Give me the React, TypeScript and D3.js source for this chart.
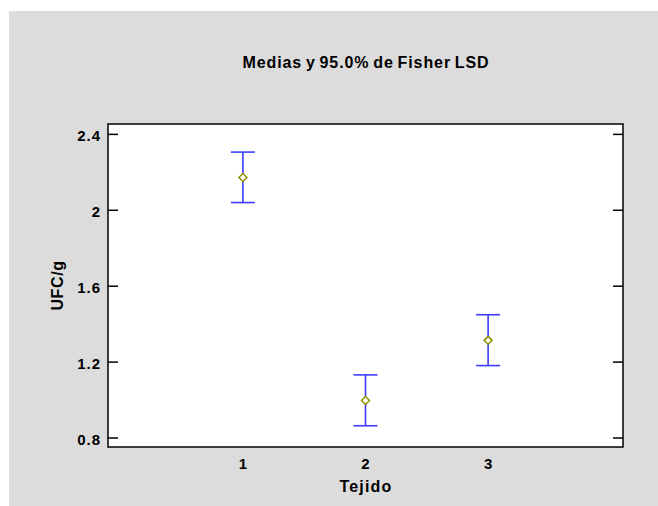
import React, { useRef, useEffect } from "react";
import * as d3 from "d3";

// Tejido groups with mean and 95% Fisher LSD limits
const categories = [1, 2, 3];
const means = [2.17, 0.995, 1.312];
const lower = [2.038, 0.862, 1.179];
const upper = [2.304, 1.13, 1.447];
const yTicks = [0.8, 1.2, 1.6, 2.0, 2.4];

const FONT = "'Liberation Sans', Arial, Helvetica, sans-serif";

const App = () => {
  const svgRef = useRef<SVGSVGElement>(null);

  useEffect(() => {
    if (!svgRef.current) return;
    const root = d3.select(svgRef.current);
    root.selectAll("*").remove();

    const W = 658;
    const H = 506;
    const plot = { left: 108, top: 124, right: 623, bottom: 447 };

    // Gray panel
    root
      .append("rect")
      .attr("x", 9)
      .attr("y", 11)
      .attr("width", W - 9)
      .attr("height", H - 11)
      .attr("fill", "#dcdcdc");

    // Plot area
    root
      .append("rect")
      .attr("x", plot.left)
      .attr("y", plot.top)
      .attr("width", plot.right - plot.left)
      .attr("height", plot.bottom - plot.top)
      .attr("fill", "white");

    const x = d3.scaleLinear().domain([-0.1, 4.1]).range([plot.left, plot.right]);
    const y = d3.scaleLinear().domain([0.75, 2.452]).range([plot.bottom, plot.top]);

    const textStyle = (sel: any, size: number, spacing: number) =>
      sel
        .style("font-family", FONT)
        .style("font-weight", "bold")
        .style("font-size", `${size}px`)
        .style("letter-spacing", `${spacing}px`)
        .attr("fill", "#000");

    // Title
    root
      .append("text")
      .attr("x", 366)
      .attr("y", 68)
      .attr("text-anchor", "middle")
      .style("word-spacing", "-1.5px")
      .text("Medias y 95.0% de Fisher LSD")
      .call(textStyle, 16, 0.9);

    // Left axis (ticks inside)
    const left = root
      .append("g")
      .attr("transform", `translate(${plot.left},0)`)
      .call(
        d3
          .axisLeft(y)
          .tickValues(yTicks)
          .tickSizeInner(-10)
          .tickSizeOuter(0)
          .tickPadding(7)
          .tickFormat((d) => d3.format("~g")(d as number))
      );
    left.select(".domain").remove();
    left.selectAll("line").attr("stroke", "#000").attr("stroke-width", 1.5);
    left.selectAll("text").attr("dy", "0.45em").call(textStyle, 15, 1);

    // Right axis ticks (inside, no labels)
    const right = root
      .append("g")
      .attr("transform", `translate(${plot.right},0)`)
      .call(d3.axisRight(y).tickValues(yTicks).tickSizeInner(-10).tickSizeOuter(0).tickFormat(() => ""));
    right.select(".domain").remove();
    right.selectAll("line").attr("stroke", "#000").attr("stroke-width", 1.5);

    // Frame
    root
      .append("rect")
      .attr("x", plot.left)
      .attr("y", plot.top)
      .attr("width", plot.right - plot.left)
      .attr("height", plot.bottom - plot.top)
      .attr("fill", "none")
      .attr("stroke", "#000")
      .attr("stroke-width", 1.5);

    // X tick labels (no tick marks)
    root
      .selectAll(".xlab")
      .data(categories)
      .enter()
      .append("text")
      .attr("x", (d) => x(d) + 0.5)
      .attr("y", 469)
      .attr("text-anchor", "middle")
      .text((d) => String(d))
      .call(textStyle, 15, 1);

    // Axis titles
    root
      .append("text")
      .attr("x", 366)
      .attr("y", 492)
      .attr("text-anchor", "middle")
      .text("Tejido")
      .call(textStyle, 16, 1.2);

    root
      .append("text")
      .attr("transform", `translate(63,${(plot.top + plot.bottom) / 2}) rotate(-90)`)
      .attr("text-anchor", "middle")
      .text("UFC/g")
      .call(textStyle, 16, 0.6);

    // Error bars
    const blue = "#3c3cff";
    const cap = 12;
    const bars = root.selectAll(".bar").data(categories).enter().append("g");
    bars
      .append("line")
      .attr("x1", (d) => x(d))
      .attr("x2", (d) => x(d))
      .attr("y1", (_, i) => y(upper[i]))
      .attr("y2", (_, i) => y(lower[i]))
      .attr("stroke", blue)
      .attr("stroke-width", 1.6);
    bars
      .append("line")
      .attr("x1", (d) => x(d) - cap)
      .attr("x2", (d) => x(d) + cap)
      .attr("y1", (_, i) => y(upper[i]))
      .attr("y2", (_, i) => y(upper[i]))
      .attr("stroke", blue)
      .attr("stroke-width", 1.6);
    bars
      .append("line")
      .attr("x1", (d) => x(d) - cap)
      .attr("x2", (d) => x(d) + cap)
      .attr("y1", (_, i) => y(lower[i]))
      .attr("y2", (_, i) => y(lower[i]))
      .attr("stroke", blue)
      .attr("stroke-width", 1.6);

    // Mean markers (diamonds)
    const diamond = d3.symbol().type(d3.symbolDiamond2).size(40);
    root
      .selectAll(".mean")
      .data(categories)
      .enter()
      .append("path")
      .attr("d", diamond)
      .attr("transform", (d, i) => `translate(${x(d)},${y(means[i])})`)
      .attr("fill", "white")
      .attr("stroke", "#8f8f00")
      .attr("stroke-width", 1.5);
  }, []);

  return (
    <svg
      ref={svgRef}
      width={658}
      height={506}
      style={{ position: "absolute", left: 0, top: 0, display: "block" }}
    ></svg>
  );
};

export default App;
